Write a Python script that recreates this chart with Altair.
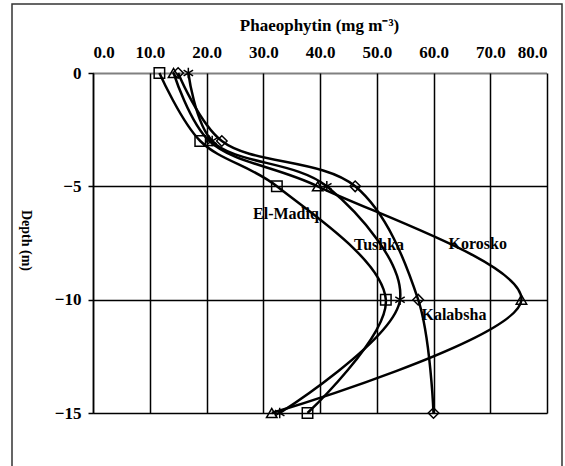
import altair as alt
import pandas as pd

# ---- data ----
depths = [0, -3, -5, -10, -15]
series_names = ["El-Madiq", "Korosko", "Kalabsha", "Tushka"]
el_madiq = [11.7, 18.9, 32.4, 51.6, 37.8]
korosko = [14.2, 20.5, 39.6, 75.5, 31.5]
kalabsha = [15.0, 22.7, 46.2, 57.3, 60.0]
tushka = [16.8, 21.0, 41.2, 54.1, 32.9]

x_ticks = [0, 10, 20, 30, 40, 50, 60, 70, 80]
y_ticks = [0, -5, -10, -15]

label_names = ["El-Madiq", "Tushka", "Korosko", "Kalabsha"]
label_x = [34.0, 50.4, 67.8, 63.6]
label_y = [-6.22, -7.59, -7.55, -10.67]

asterisk = "M0,-1L0,1M-0.9,-0.55L0.9,0.55M-0.9,0.55L0.9,-0.55"
shapes = ["square", "triangle-up", "diamond", asterisk]

rows = []
for name, vals in zip(series_names, [el_madiq, korosko, kalabsha, tushka]):
    for i, (d, v) in enumerate(zip(depths, vals)):
        rows.append({"series": name, "depth": d, "value": v, "order": i})
df = pd.DataFrame(rows)
labels_df = pd.DataFrame({"name": label_names, "lx": label_x, "ly": label_y})

FONT = "'Liberation Serif', 'Times New Roman', serif"

x_scale = alt.Scale(domain=[0, 80], nice=False, zero=False)
y_scale = alt.Scale(domain=[-15, 0], nice=False, zero=False)

x_axis = alt.Axis(
    orient="top", values=x_ticks, format=".1f", title="Phaeophytin (mg m⁻³)",
    labelFont=FONT, labelFontWeight="bold", labelFontSize=17, labelColor="black",
    labelPadding=12, ticks=False,
    titleFont=FONT, titleFontWeight="bold", titleFontSize=17, titleColor="black",
    titleX=226, titleY=-48, titleBaseline="middle",
    grid=True, gridColor="black", gridWidth=1.5, gridOpacity=1,
    domainColor="black", domainWidth=2, domainDash=[1, 1],
)
y_axis = alt.Axis(
    values=y_ticks, format="d", title="Depth (m)",
    labelFont=FONT, labelFontWeight="bold", labelFontSize=17, labelColor="black",
    labelPadding=7, tickSize=5, tickColor="black", tickWidth=1.5,
    titleFont=FONT, titleFontWeight="bold", titleFontSize=14, titleColor="black",
    titleAngle=90, titleX=-68, titleY=167, titleAlign="center", titleBaseline="middle",
    grid=True, gridColor="black", gridWidth=1.5,
    gridOpacity={"condition": {"test": "datum.value === 0", "value": 0}, "value": 1},
    domainColor="black", domainWidth=1.5,
)

border = alt.Chart(pd.DataFrame({"a": [0]})).mark_rect(
    fillOpacity=0, stroke="#333333", strokeWidth=1.5, clip=False
).encode(
    x=alt.value(-81), x2=alt.value(469), y=alt.value(-69), y2=alt.value(400)
)

lines = alt.Chart(df).mark_line(
    interpolate="catmull-rom", color="black", strokeWidth=2.5
).encode(
    x=alt.X("value:Q", scale=x_scale, axis=x_axis),
    y=alt.Y("depth:Q", scale=y_scale, axis=y_axis),
    detail="series:N",
    order="order:Q",
)

points = alt.Chart(df).mark_point(
    filled=False, color="black", strokeWidth=1.5, size=110, opacity=1
).encode(
    x=alt.X("value:Q", scale=x_scale, axis=x_axis),
    y=alt.Y("depth:Q", scale=y_scale, axis=y_axis),
    shape=alt.Shape("series:N", scale=alt.Scale(domain=series_names, range=shapes), legend=None),
)

texts = alt.Chart(labels_df).mark_text(
    font=FONT, fontWeight="bold", fontSize=16, color="black"
).encode(
    x=alt.X("lx:Q", scale=x_scale, axis=x_axis),
    y=alt.Y("ly:Q", scale=y_scale, axis=y_axis),
    text="name:N",
)

chart = alt.layer(border, lines, points, texts).properties(
    width=454, height=340,
    padding={"left": 93, "top": 73, "right": 18, "bottom": 53},
    autosize=alt.AutoSizeParams(type="none"),
    background="white",
).configure(font=FONT).configure_view(stroke=None)

chart.save("out.html", embed_options={"renderer": "svg", "actions": False})
